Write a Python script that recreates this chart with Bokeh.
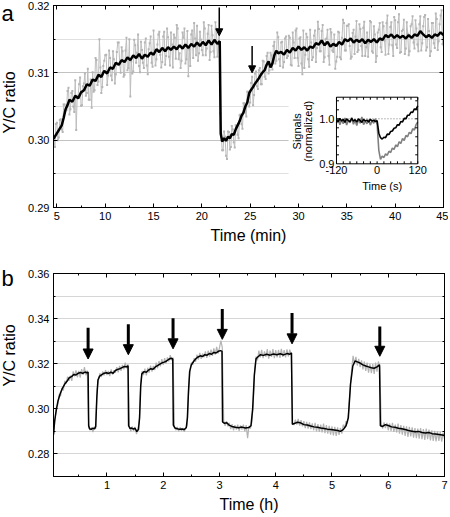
import numpy as np
from bokeh.plotting import figure
from bokeh.layouts import column, row
from bokeh.models import (Range1d, LinearAxis, SingleIntervalTicker, NumeralTickFormatter,
                          CustomJSTickFormatter, Arrow, NormalHead, ColumnDataSource)
from bokeh.core.properties import value
from bokeh.embed import file_html
from bokeh.resources import INLINE

FONT = "Liberation Sans"

# ---------------- panel a data (time in min, Y/C ratio) ----------------
# raw (grey) trace, two interleaved sample sets
grey_a_start = 4.6
grey_a_step = 0.2
grey_a_ratio = [
    0.3011, 0.2990, 0.3026, 0.3004, 0.3031, 0.3012, 0.3053, 0.3045,
    0.3078, 0.3046, 0.3073, 0.3042, 0.3015, 0.3066, 0.3093, 0.3052, 0.3084, 0.3066,
    0.3106, 0.3060, 0.3048, 0.3072, 0.3122, 0.3082, 0.3150, 0.3070, 0.3110, 0.3126,
    0.3082, 0.3133, 0.3096, 0.3132, 0.3084, 0.3131, 0.3145, 0.3100, 0.3132, 0.3097,
    0.3152, 0.3107, 0.3065, 0.3099, 0.3149, 0.3115, 0.3157, 0.3101, 0.3134, 0.3107,
    0.3151, 0.3098, 0.3144, 0.3115, 0.3163, 0.3111, 0.3142, 0.3161, 0.3108, 0.3154,
    0.3112, 0.3166, 0.3124, 0.3160, 0.3108, 0.3152, 0.3171, 0.3120, 0.3107, 0.3160,
    0.3166, 0.3120, 0.3095, 0.3110, 0.3163, 0.3174, 0.3126, 0.3118, 0.3161, 0.3134,
    0.3175, 0.3126, 0.3158, 0.3119, 0.3170, 0.3132, 0.3175, 0.3124, 0.3160,
    0.3010, 0.2985, 0.3005, 0.2972, 0.3012, 0.2990, 0.3016, 0.2989, 0.3020, 0.3003,
    0.3038, 0.3017, 0.3055, 0.3035, 0.3072, 0.3056, 0.3094, 0.3067, 0.3102, 0.3076,
    0.3107, 0.3083, 0.3117, 0.3091, 0.3130, 0.3104, 0.3126, 0.3140, 0.3114, 0.3160,
    0.3120, 0.3145, 0.3108, 0.3151, 0.3122, 0.3155,
    0.3112, 0.3160, 0.3122, 0.3166, 0.3110, 0.3153, 0.3098, 0.3107, 0.3158, 0.3120,
    0.3164, 0.3119, 0.3155, 0.3116, 0.3176, 0.3132, 0.3162, 0.3116, 0.3150, 0.3164,
    0.3112, 0.3160, 0.3131, 0.3106, 0.3124, 0.3160, 0.3120, 0.3179, 0.3133, 0.3170,
    0.3172, 0.3121, 0.3159, 0.3128, 0.3177, 0.3134, 0.3165, 0.3125, 0.3176, 0.3138,
    0.3124, 0.3177, 0.3132, 0.3169, 0.3116, 0.3160, 0.3174, 0.3131, 0.3169, 0.3127,
    0.3185, 0.3142, 0.3175, 0.3125, 0.3178, 0.3137, 0.3187, 0.3131, 0.3164, 0.3128,
    0.3175, 0.3126, 0.3169, 0.3184, 0.3136, 0.3166, 0.3132, 0.3184, 0.3144, 0.3183,
    0.3133, 0.3180, 0.3125, 0.3174, 0.3144, 0.3188, 0.3134, 0.3172, 0.3193, 0.3141,
]
grey_a2_start = 4.7
grey_a2_step = 0.2
grey_a2_ratio = [
    0.2999, 0.3024, 0.3000, 0.3030, 0.3016, 0.3053, 0.3044,
    0.3073, 0.3038, 0.3070, 0.3050, 0.3089, 0.3064, 0.3083, 0.3051, 0.3080, 0.3099,
    0.3070, 0.3060, 0.3090, 0.3101, 0.3074, 0.3119, 0.3087, 0.3108, 0.3079, 0.3118,
    0.3127, 0.3096, 0.3122, 0.3089, 0.3120, 0.3098, 0.3145, 0.3113, 0.3138, 0.3094,
    0.3133, 0.3104, 0.3150, 0.3117, 0.3102, 0.3141, 0.3130, 0.3110, 0.3146, 0.3115,
    0.3145, 0.3111, 0.3135, 0.3154, 0.3109, 0.3134, 0.3120, 0.3157, 0.3127, 0.3116,
    0.3161, 0.3125, 0.3153, 0.3111, 0.3142, 0.3157, 0.3121, 0.3166, 0.3129, 0.3118,
    0.3152, 0.3114, 0.3162, 0.3135, 0.3157, 0.3122, 0.3151, 0.3170, 0.3129, 0.3149,
    0.3126, 0.3166, 0.3136, 0.3171, 0.3131, 0.3156, 0.3123, 0.3164, 0.3142, 0.3040,
    0.2985, 0.3013, 0.2977, 0.3013, 0.2986, 0.3021, 0.2997, 0.3022, 0.3008, 0.3037,
    0.3024, 0.3055, 0.3041, 0.3072, 0.3050, 0.3085, 0.3052, 0.3099, 0.3080, 0.3104,
    0.3083, 0.3118, 0.3094, 0.3125, 0.3099, 0.3130, 0.3105, 0.3146, 0.3118, 0.3153,
    0.3110, 0.3146, 0.3116, 0.3154, 0.3125, 0.3152, 0.3111, 0.3145, 0.3163, 0.3122,
    0.3151, 0.3114, 0.3163, 0.3127, 0.3153, 0.3109, 0.3145, 0.3123, 0.3163, 0.3137,
    0.3165, 0.3132, 0.3171, 0.3123, 0.3151, 0.3125, 0.3165, 0.3133, 0.3157, 0.3117,
    0.3161, 0.3123, 0.3152, 0.3174, 0.3133, 0.3170, 0.3140, 0.3124, 0.3164, 0.3154,
    0.3131, 0.3172, 0.3140, 0.3167, 0.3125, 0.3160, 0.3144, 0.3175, 0.3130, 0.3157,
    0.3125, 0.3164, 0.3138, 0.3175, 0.3148, 0.3174, 0.3128, 0.3168, 0.3141, 0.3183,
    0.3142, 0.3175, 0.3130, 0.3162, 0.3179, 0.3136, 0.3158, 0.3132, 0.3172, 0.3145,
    0.3178, 0.3142, 0.3172, 0.3133, 0.3169, 0.3186, 0.3138, 0.3162, 0.3132, 0.3174,
    0.3137, 0.3180, 0.3147, 0.3185, 0.3143,
]

# smoothed (black) trace
black_a_time = [
    4.65, 4.9, 5.2, 5.5, 5.7, 5.9, 6.1, 6.3, 6.6, 6.9, 7.2, 7.5, 7.8, 8.1, 8.4, 8.7,
    9.0, 9.3, 9.6, 9.9, 10.2, 10.5, 10.8, 11.1, 11.4, 11.7, 12.0, 12.3, 12.6, 12.9,
    13.2, 13.5, 13.8, 14.1, 14.4, 14.7, 15.0, 15.3, 15.6, 15.9, 16.2, 16.5, 16.8,
    17.1, 17.4, 17.7, 18.0, 18.3, 18.6, 18.9, 19.2, 19.5, 19.8, 20.1, 20.4, 20.7,
    21.0, 21.3, 21.6, 21.85, 21.95, 22.1, 22.3, 22.5, 22.7, 22.9, 23.1, 23.3, 23.5,
    23.7, 23.9, 24.1, 24.3, 24.5, 24.7, 24.9, 25.1, 25.3, 25.5, 25.7, 25.9, 26.1,
    26.3, 26.5, 26.7, 26.9, 27.1, 27.3, 27.5, 27.7, 27.9, 28.2, 28.5, 28.8, 29.1,
    29.4, 29.7, 30.0, 30.3, 30.6, 30.9, 31.2, 31.5, 31.8, 32.1, 32.4, 32.7, 33.0,
    33.3, 33.6, 33.9, 34.2, 34.5, 34.8, 35.1, 35.4, 35.7, 36.0, 36.3, 36.6, 36.9,
    37.2, 37.5, 37.8, 38.1, 38.4, 38.7, 39.0, 39.3, 39.6, 39.9, 40.2, 40.5, 40.8,
    41.1, 41.4, 41.7, 42.0, 42.3, 42.6, 42.9, 43.2, 43.5, 43.8, 44.1, 44.4, 44.7, 45.0,
]
black_a_ratio = [
    0.3002, 0.3008, 0.3015, 0.3022, 0.3033, 0.3046, 0.3052, 0.3060, 0.3057, 0.3066,
    0.3062, 0.3071, 0.3074, 0.3083, 0.3081, 0.3090, 0.3088, 0.3097, 0.3094, 0.3103,
    0.3099, 0.3108, 0.3106, 0.3115, 0.3112, 0.3119, 0.3116, 0.3123, 0.3119, 0.3126,
    0.3122, 0.3128, 0.3121, 0.3127, 0.3124, 0.3130, 0.3127, 0.3135, 0.3131, 0.3137,
    0.3132, 0.3138, 0.3134, 0.3139, 0.3135, 0.3141, 0.3136, 0.3142, 0.3137, 0.3143,
    0.3139, 0.3145, 0.3140, 0.3146, 0.3141, 0.3148, 0.3142, 0.3149, 0.3143, 0.3147,
    0.3010, 0.2998, 0.3003, 0.2999, 0.3005, 0.3003, 0.3009, 0.3008, 0.3016, 0.3022,
    0.3028, 0.3036, 0.3041, 0.3050, 0.3056, 0.3070, 0.3075, 0.3079, 0.3084, 0.3088,
    0.3092, 0.3097, 0.3101, 0.3104, 0.3112, 0.3117, 0.3108, 0.3114, 0.3126, 0.3133,
    0.3129, 0.3131, 0.3127, 0.3134, 0.3130, 0.3137, 0.3133, 0.3139, 0.3134, 0.3138,
    0.3133, 0.3139, 0.3137, 0.3144, 0.3142, 0.3148, 0.3141, 0.3146, 0.3139, 0.3143,
    0.3140, 0.3146, 0.3142, 0.3150, 0.3147, 0.3151, 0.3145, 0.3149, 0.3146, 0.3150,
    0.3144, 0.3149, 0.3146, 0.3150, 0.3145, 0.3151, 0.3149, 0.3156, 0.3153, 0.3157,
    0.3152, 0.3156, 0.3152, 0.3155, 0.3151, 0.3156, 0.3152, 0.3157, 0.3155, 0.3162,
    0.3157, 0.3153, 0.3156, 0.3152, 0.3157, 0.3155, 0.3160, 0.3156,
]

arrows_a_time = [21.8, 25.2]
arrows_a_top = [0.3197, 0.3140]
arrows_a_tip = [0.3155, 0.3100]

# ---------------- inset data (time in s, normalized signals) ----------------
inset_time = list(range(-120, 121, 5))
inset_black = [
    0.998, 0.993, 1.001, 0.995, 0.999, 0.992, 1.000, 0.996, 0.994, 1.001, 0.995, 0.998,
    0.993, 1.000, 0.996, 0.992, 0.999, 0.995, 0.997, 0.993, 0.999, 0.995, 0.997, 0.994,
    0.996, 0.968, 0.958, 0.955, 0.959, 0.958, 0.966, 0.965, 0.972, 0.973, 0.979, 0.980,
    0.987, 0.986, 0.994, 0.993, 1.001, 1.000, 1.008, 1.008, 1.015, 1.014, 1.022, 1.021, 1.029,
]
inset_grey = [
    0.990, 1.000, 0.987, 0.998, 0.989, 1.002, 0.986, 0.997, 0.991, 1.003, 0.988, 0.996,
    0.985, 0.999, 0.990, 1.004, 0.987, 0.995, 0.989, 0.998, 0.986, 0.996, 0.990, 1.000,
    0.988, 0.930, 0.910, 0.917, 0.914, 0.922, 0.919, 0.928, 0.925, 0.935, 0.932, 0.942,
    0.938, 0.949, 0.945, 0.956, 0.952, 0.963, 0.960, 0.970, 0.967, 0.978, 0.975, 0.987, 0.993,
]
inset_xtick_labels = ["-120", "0", "120"]
inset_xtick_pos = [-120, 0, 120]
inset_ytick_labels = ["1.0", "0.9"]
inset_ytick_pos = [1.0, 0.9]
inset_minor_x = list(range(-120, 121, 20))
inset_minor_y = [0.92, 0.94, 0.96, 0.98, 1.0, 1.02, 1.04]

# ---------------- panel b data (time in h, Y/C ratio) ----------------
grey_b_start = 0.05
grey_b_step = 0.025
grey_b_ratio = [
    0.2890, 0.2950, 0.3007, 0.3017, 0.3063, 0.3056, 0.3092, 0.3082, 0.3124, 0.3112,
    0.3143, 0.3124, 0.3147, 0.3124, 0.3166, 0.3144, 0.3171, 0.3140, 0.3168, 0.3138,
    0.3176, 0.3151, 0.3185, 0.3149, 0.3170,
    0.2930, 0.2905, 0.2918, 0.2897, 0.2920, 0.2912, 0.3085, 0.3130, 0.3158, 0.3141,
    0.3166, 0.3148, 0.3172, 0.3150, 0.3168, 0.3145, 0.3175, 0.3152, 0.3171, 0.3160,
    0.3185, 0.3162, 0.3190, 0.3168, 0.3195, 0.3175, 0.3205, 0.3180, 0.3198,
    0.2918, 0.2900, 0.2922, 0.2903, 0.2920, 0.2888, 0.2912, 0.2945, 0.3110, 0.3168,
    0.3150, 0.3178, 0.3148, 0.3182, 0.3160, 0.3192, 0.3165, 0.3190, 0.3172, 0.3205,
    0.3180, 0.3212, 0.3188, 0.3220, 0.3195, 0.3225, 0.3200, 0.3228, 0.3210, 0.3238,
    0.3215, 0.3228,
    0.2922, 0.2905, 0.2920, 0.2900, 0.2918, 0.2902, 0.2915, 0.2898, 0.2917, 0.2925,
    0.3070, 0.3172, 0.3205, 0.3195, 0.3225, 0.3208, 0.3240, 0.3218, 0.3248, 0.3222,
    0.3245, 0.3228, 0.3255, 0.3226, 0.3258, 0.3232, 0.3262, 0.3235, 0.3268, 0.3240,
    0.3275, 0.3245, 0.3270, 0.3302, 0.3272,
    0.2948, 0.2925, 0.2945, 0.2922, 0.2938, 0.2910, 0.2932, 0.2905, 0.2928, 0.2908,
    0.2930, 0.2902, 0.2926, 0.2908, 0.2930, 0.2900, 0.2928, 0.2870, 0.2925, 0.2912,
    0.2940, 0.3020, 0.3170, 0.3232, 0.3215, 0.3258, 0.3228, 0.3262, 0.3225, 0.3255,
    0.3230, 0.3265, 0.3222, 0.3258, 0.3230, 0.3265, 0.3225, 0.3260, 0.3228, 0.3262,
    0.3226, 0.3266, 0.3230, 0.3260, 0.3228, 0.3264, 0.3232, 0.3262, 0.3240,
    0.2940, 0.2928, 0.2952, 0.2930, 0.2955, 0.2925, 0.2950, 0.2922, 0.2945, 0.2915,
    0.2942, 0.2912, 0.2940, 0.2910, 0.2935, 0.2905, 0.2938, 0.2900, 0.2932, 0.2898,
    0.2930, 0.2895, 0.2935, 0.2892, 0.2928, 0.2890, 0.2925, 0.2885, 0.2922, 0.2882,
    0.2920, 0.2880, 0.2918, 0.2885, 0.2915, 0.2890,
    0.2930, 0.2915, 0.2945, 0.2935, 0.3000, 0.3100, 0.3175, 0.3235, 0.3198, 0.3230,
    0.3192, 0.3222, 0.3185, 0.3215, 0.3175, 0.3210, 0.3168, 0.3205, 0.3160, 0.3200,
    0.3158, 0.3198, 0.3155, 0.3205, 0.3165, 0.3210, 0.3185,
    0.2935, 0.2912, 0.2940, 0.2915, 0.2938, 0.2905, 0.2935, 0.2902, 0.2938, 0.2898,
    0.2930, 0.2895, 0.2935, 0.2890, 0.2928, 0.2885, 0.2925, 0.2880, 0.2922, 0.2875,
    0.2920, 0.2878, 0.2918, 0.2872, 0.2915, 0.2870, 0.2912, 0.2868, 0.2915, 0.2865,
    0.2910, 0.2862, 0.2912, 0.2865, 0.2908, 0.2860, 0.2905, 0.2858, 0.2902, 0.2855,
    0.2900, 0.2858, 0.2898, 0.2855, 0.2895, 0.2865,
]

black_b_time = [
    0.05, 0.07, 0.10, 0.13, 0.17, 0.21, 0.25, 0.29, 0.33, 0.37, 0.41, 0.45, 0.49, 0.53,
    0.57, 0.61, 0.64, 0.665, 0.675, 0.69, 0.72, 0.75, 0.78, 0.80, 0.82, 0.84, 0.87,
    0.91, 0.95, 0.99, 1.03, 1.07, 1.11, 1.15, 1.19, 1.23, 1.27, 1.31, 1.35, 1.375,
    1.385, 1.41, 1.44, 1.47, 1.50, 1.53, 1.56, 1.58, 1.60, 1.62, 1.66, 1.70, 1.74,
    1.78, 1.82, 1.86, 1.90, 1.94, 1.98, 2.02, 2.06, 2.10, 2.14, 2.17, 2.18, 2.21,
    2.25, 2.29, 2.33, 2.37, 2.41, 2.43, 2.45, 2.47, 2.50, 2.54, 2.58, 2.62, 2.66,
    2.70, 2.74, 2.78, 2.82, 2.86, 2.90, 2.94, 2.98, 3.02, 3.045, 3.055, 3.09, 3.13,
    3.17, 3.22, 3.28, 3.34, 3.40, 3.46, 3.52, 3.56, 3.59, 3.62, 3.65, 3.69, 3.73,
    3.78, 3.84, 3.90, 3.96, 4.02, 4.08, 4.14, 4.20, 4.25, 4.28, 4.295, 4.33, 4.38,
    4.44, 4.50, 4.56, 4.62, 4.68, 4.74, 4.80, 4.86, 4.92, 4.98, 5.04, 5.10, 5.15,
    5.20, 5.25, 5.29, 5.33, 5.37, 5.41, 5.45, 5.50, 5.55, 5.60, 5.65, 5.70, 5.75,
    5.80, 5.845, 5.86, 5.90, 5.95, 6.00, 6.06, 6.12, 6.18, 6.24, 6.30, 6.36, 6.42,
    6.48, 6.54, 6.60, 6.66, 6.72, 6.78, 6.84, 6.90, 6.96, 7.00,
]
black_b_ratio = [
    0.2885, 0.2945, 0.2995, 0.3035, 0.3068, 0.3092, 0.3110, 0.3122, 0.3138, 0.3143,
    0.3152, 0.3150, 0.3158, 0.3161, 0.3157, 0.3163, 0.3160, 0.3163, 0.2925, 0.2912,
    0.2909, 0.2914, 0.2911, 0.2922, 0.3050, 0.3128, 0.3145, 0.3152, 0.3158, 0.3160,
    0.3157, 0.3162, 0.3158, 0.3170, 0.3175, 0.3178, 0.3183, 0.3188, 0.3186, 0.3191,
    0.2925, 0.2913, 0.2915, 0.2910, 0.2914, 0.2899, 0.2908, 0.2960, 0.3100, 0.3155,
    0.3165, 0.3162, 0.3172, 0.3178, 0.3175, 0.3186, 0.3192, 0.3198, 0.3204, 0.3207,
    0.3212, 0.3220, 0.3224, 0.3221, 0.2928, 0.2915, 0.2912, 0.2909, 0.2911, 0.2908,
    0.2916, 0.2960, 0.3080, 0.3165, 0.3195, 0.3210, 0.3222, 0.3230, 0.3235, 0.3232,
    0.3240, 0.3238, 0.3245, 0.3242, 0.3250, 0.3248, 0.3255, 0.3258, 0.3255, 0.2942,
    0.2936, 0.2938, 0.2928, 0.2922, 0.2918, 0.2916, 0.2919, 0.2915, 0.2917, 0.2925,
    0.3000, 0.3150, 0.3222, 0.3232, 0.3240, 0.3237, 0.3242, 0.3238, 0.3243, 0.3240,
    0.3244, 0.3239, 0.3245, 0.3242, 0.3248, 0.2932, 0.2935, 0.2940, 0.2938, 0.2930,
    0.2928, 0.2924, 0.2920, 0.2918, 0.2915, 0.2913, 0.2910, 0.2908, 0.2906, 0.2904,
    0.2900, 0.2908, 0.2925, 0.2960, 0.3110, 0.3190, 0.3212, 0.3208, 0.3203, 0.3195,
    0.3190, 0.3186, 0.3182, 0.3180, 0.3186, 0.3195, 0.2925, 0.2922, 0.2930, 0.2926,
    0.2920, 0.2918, 0.2914, 0.2912, 0.2908, 0.2904, 0.2901, 0.2898, 0.2900, 0.2895,
    0.2893, 0.2895, 0.2890, 0.2888, 0.2886, 0.2884, 0.2882,
]

arrows_b_time = [0.665, 1.38, 2.175, 3.05, 4.29, 5.85]
arrows_b_top = [0.3360, 0.3375, 0.3402, 0.3443, 0.3425, 0.3365]
arrows_b_tip = [0.3221, 0.3240, 0.3266, 0.3308, 0.3288, 0.3233]

panel_letters = ["a", "b"]
y_axis_title = "Y/C ratio"

# ---------------- layout parameters (pixels / fractions) ----------------
XA = (4.65, 45.0)
YA = (0.29, 0.32)
XB = (0.05, 7.0)
YB = (0.27, 0.36)
SIDE_W = 22
A_LEFT, A_FW, A_FH, A_TOP, A_BOT = 31, 390, 202, 5, 43
B_LEFT, B_FW, B_FH, B_TOP, B_BOT = 30, 391, 203, 23, 40
RIGHT = 5
HA = A_TOP + A_FH + A_BOT
HB = B_TOP + B_FH + B_BOT
H = HA + HB
LETTER_BASE = [13, HA + 28]                       # from top of page
YTITLE_CENTER = [A_TOP + A_FH / 2 - 4, HA + 105]  # from top of page
# inset placement as fractions of panel a's frame
INS_FX = (0.7256, 0.934)
INS_FY = (0.2163, 0.546)
INS_X = (-120, 120)
INS_Y = (0.9, 1.048)
BOX_FX = (0.6026, 1.0)
BOX_FY = (0.0594, 0.569)

BLANK = CustomJSTickFormatter(code="return ''")


def style_axis(ax, ticker, fmt=None, labels=True, label=None):
    ax.ticker = ticker
    if fmt is not None:
        ax.formatter = fmt
    ax.major_tick_in = 4
    ax.major_tick_out = 0
    ax.minor_tick_in = 2
    ax.minor_tick_out = 0
    ax.axis_line_color = "black"
    ax.major_tick_line_color = "black"
    ax.minor_tick_line_color = "black"
    ax.major_label_text_font = FONT
    ax.major_label_text_color = "black"
    ax.major_label_text_font_size = "11px"
    ax.major_label_standoff = 4
    ax.axis_label_text_font = FONT
    ax.axis_label_text_font_size = "16px"
    ax.axis_label_text_font_style = "normal"
    ax.axis_label_text_color = "black"
    ax.axis_label_standoff = 4
    if label:
        ax.axis_label = label
    if not labels:
        ax.formatter = BLANK
        ax.major_label_standoff = 0


def make_fig(xr, yr, fw, fh, left, top, bottom):
    p = figure(frame_width=fw, frame_height=fh, x_range=Range1d(*xr), y_range=Range1d(*yr),
               output_backend="svg", toolbar_location=None,
               min_border_left=left, min_border_right=RIGHT, min_border_top=top,
               min_border_bottom=bottom)
    p.outline_line_color = "black"
    p.outline_line_width = 1
    p.background_fill_color = "white"
    p.border_fill_color = "white"
    p.xgrid.grid_line_color = None
    return p


# ================= panel a =================
pa = make_fig(XA, YA, A_FW, A_FH, A_LEFT, A_TOP, A_BOT)
xt_a = SingleIntervalTicker(interval=5, num_minor_ticks=2)
yt_a = SingleIntervalTicker(interval=0.01, num_minor_ticks=2)
style_axis(pa.xaxis[0], xt_a, label="Time (min)")
style_axis(pa.yaxis[0], yt_a, NumeralTickFormatter(format="0.00"))
top_a = LinearAxis()
style_axis(top_a, SingleIntervalTicker(interval=5, num_minor_ticks=2), labels=False)
pa.add_layout(top_a, "above")
right_a = LinearAxis()
style_axis(right_a, SingleIntervalTicker(interval=0.01, num_minor_ticks=2), labels=False)
pa.add_layout(right_a, "right")
pa.ygrid.ticker = yt_a
pa.ygrid.grid_line_color = "#c2c2c2"
pa.ygrid.minor_grid_line_color = "#e0e0e0"

# white background behind the inset (covers the grid)
bx = [XA[0] + f * (XA[1] - XA[0]) for f in BOX_FX]
by = [YA[0] + f * (YA[1] - YA[0]) for f in BOX_FY]
pa.quad(left=bx[0], right=bx[1], bottom=by[0], top=by[1], fill_color="white", line_color=None)

t1 = grey_a_start + grey_a_step * np.arange(len(grey_a_ratio))
t2 = grey_a2_start + grey_a2_step * np.arange(len(grey_a2_ratio))
gt = np.concatenate([t1, t2])
gv = np.concatenate([grey_a_ratio, grey_a2_ratio])
order = np.argsort(gt, kind="stable")
pa.line(gt[order], gv[order], line_color="#bdbdbd", line_width=1.0)
pa.scatter(gt[order], gv[order], marker="square", size=2, line_color=None, fill_color="#b5b5b5")
pa.line(black_a_time, black_a_ratio, line_color="black", line_width=2.5)

src_arr_a = ColumnDataSource(dict(x=arrows_a_time, y0=arrows_a_top, y1=arrows_a_tip))
pa.add_layout(Arrow(end=NormalHead(size=7, fill_color="black", line_color="black", line_width=1),
                    x_start="x", y_start="y0", x_end="x", y_end="y1", source=src_arr_a,
                    line_color="black", line_width=1.5))

# inset via extra ranges that map its data onto its box in the frame
span_x = (INS_X[1] - INS_X[0]) / (INS_FX[1] - INS_FX[0])
ix0 = INS_X[0] - INS_FX[0] * span_x
span_y = (INS_Y[1] - INS_Y[0]) / (INS_FY[1] - INS_FY[0])
iy0 = INS_Y[0] - INS_FY[0] * span_y
pa.extra_x_ranges = {"ins": Range1d(ix0, ix0 + span_x)}
pa.extra_y_ranges = {"ins": Range1d(iy0, iy0 + span_y)}
R = dict(x_range_name="ins", y_range_name="ins")

pa.line([INS_X[0], INS_X[1]], [1.0, 1.0], line_color="#777777", line_width=1, line_dash="1 2", **R)
pa.line(inset_time, inset_grey, line_color="#808080", line_width=1.6, **R)
pa.line(inset_time, inset_black, line_color="black", line_width=1.6, **R)
pa.quad(left=INS_X[0], right=INS_X[1], bottom=INS_Y[0], top=INS_Y[1],
        fill_color=None, line_color="black", line_width=1, **R)
pa.ray(x=inset_minor_x, y=[INS_Y[1]] * len(inset_minor_x), length=2.5, length_units="screen",
       angle=-np.pi / 2, line_color="black", line_width=1, **R)
pa.ray(x=inset_minor_x, y=[INS_Y[0]] * len(inset_minor_x), length=2.5, length_units="screen",
       angle=np.pi / 2, line_color="black", line_width=1, **R)
pa.ray(x=[INS_X[0]] * len(inset_minor_y), y=inset_minor_y, length=2.5, length_units="screen",
       angle=0, line_color="black", line_width=1, **R)
pa.ray(x=[INS_X[1]] * len(inset_minor_y), y=inset_minor_y, length=2.5, length_units="screen",
       angle=np.pi, line_color="black", line_width=1, **R)
pa.text(x=inset_xtick_pos, y=[INS_Y[0]] * 3, text=inset_xtick_labels, text_align="center",
        text_baseline="top", y_offset=2, text_font=value(FONT), text_font_size=value("11px"),
        text_color="black", **R)
pa.text(x=[INS_X[0]] * 2, y=inset_ytick_pos, text=inset_ytick_labels, text_align="right",
        text_baseline="middle", x_offset=-2, text_font=value(FONT), text_font_size=value("11px"),
        text_color="black", **R)
pa.text(x=[15], y=[INS_Y[0]], text=["Time (s)"], text_align="center", text_baseline="top",
        y_offset=16, text_font=value(FONT), text_font_size=value("11px"), text_color="black", **R)
pa.text(x=[INS_X[0], INS_X[0]], y=[0.972, 0.972], text=["Signals", "(normalized)"],
        text_align="center", text_baseline="middle", x_offset=[-39, -28], angle=np.pi / 2,
        text_font=value(FONT), text_font_size=value("11px"), text_color="black", **R)

# ================= panel b =================
pb = make_fig(XB, YB, B_FW, B_FH, B_LEFT, B_TOP, B_BOT)
xt_b = SingleIntervalTicker(interval=1, num_minor_ticks=2)
yt_b = SingleIntervalTicker(interval=0.02, num_minor_ticks=2)
style_axis(pb.xaxis[0], xt_b, label="Time (h)")
style_axis(pb.yaxis[0], yt_b, NumeralTickFormatter(format="0.00"))
top_b = LinearAxis()
style_axis(top_b, SingleIntervalTicker(interval=1, num_minor_ticks=2), labels=False)
pb.add_layout(top_b, "above")
right_b = LinearAxis()
style_axis(right_b, SingleIntervalTicker(interval=0.02, num_minor_ticks=2), labels=False)
pb.add_layout(right_b, "right")
pb.ygrid.ticker = yt_b
pb.ygrid.grid_line_color = "#d6d6d6"
pb.ygrid.minor_grid_line_color = "#d6d6d6"

grey_b_time = grey_b_start + grey_b_step * np.arange(len(grey_b_ratio))
pb.line(grey_b_time, grey_b_ratio, line_color="#b3b3b3", line_width=1.2)
pb.line(black_b_time, black_b_ratio, line_color="black", line_width=1.5)

src_arr_b = ColumnDataSource(dict(x=arrows_b_time, y0=arrows_b_top, y1=arrows_b_tip))
pb.add_layout(Arrow(end=NormalHead(size=10, fill_color="black", line_color="black", line_width=1),
                    x_start="x", y_start="y0", x_end="x", y_end="y1", source=src_arr_b,
                    line_color="black", line_width=3))

# ================= left strip: panel letters and y-axis titles =================
side = figure(width=SIDE_W, height=H, x_range=Range1d(0, SIDE_W), y_range=Range1d(H, 0),
              output_backend="svg", toolbar_location=None, min_border=0,
              x_axis_type=None, y_axis_type=None)
side.outline_line_color = None
side.background_fill_color = "white"
side.border_fill_color = "white"
side.text(x=[1, 1], y=LETTER_BASE, text=panel_letters, text_align="left",
          text_baseline="alphabetic", text_font=value(FONT), text_font_size=value("22px"),
          text_color="black")
side.text(x=[SIDE_W / 2 - 2] * 2, y=YTITLE_CENTER, text=[y_axis_title] * 2, angle=np.pi / 2,
          text_align="center", text_baseline="middle", text_font=value(FONT),
          text_font_size=value("16px"), text_color="black")

layout = row(side, column(pa, pb, spacing=0), spacing=0)
open("out.html", "w").write(file_html(layout, INLINE))
